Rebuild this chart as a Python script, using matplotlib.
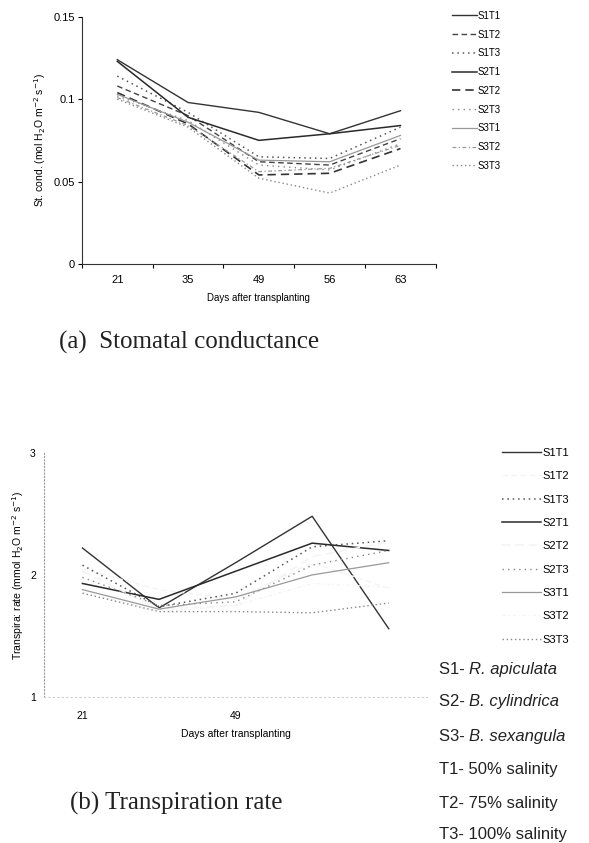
import matplotlib.pyplot as plt
import numpy as np

plt.rcParams['font.family'] = ['Liberation Sans', 'DejaVu Sans']

# Days after transplanting (category axis)
days = ['21', '35', '49', '56', '63']
series = ['S1T1', 'S1T2', 'S1T3', 'S2T1', 'S2T2', 'S2T3', 'S3T1', 'S3T2', 'S3T3']

# (a) Stomatal conductance (mol H2O m-2 s-1)
s1t1_gs = [0.124, 0.098, 0.092, 0.079, 0.093]
s1t2_gs = [0.108, 0.090, 0.062, 0.060, 0.076]
s1t3_gs = [0.114, 0.092, 0.065, 0.064, 0.083]
s2t1_gs = [0.123, 0.089, 0.075, 0.079, 0.084]
s2t2_gs = [0.104, 0.085, 0.054, 0.055, 0.070]
s2t3_gs = [0.102, 0.087, 0.060, 0.057, 0.073]
s3t1_gs = [0.103, 0.086, 0.063, 0.062, 0.078]
s3t2_gs = [0.101, 0.084, 0.056, 0.058, 0.072]
s3t3_gs = [0.100, 0.083, 0.052, 0.043, 0.060]

# (b) Transpiration rate (mmol H2O m-2 s-1)
s1t1_tr = [2.22, 1.73, 2.10, 2.48, 1.56]
s1t2_tr = [2.05, 1.88, 1.80, 2.10, 1.89]
s1t3_tr = [2.08, 1.74, 1.85, 2.23, 2.28]
s2t1_tr = [1.93, 1.80, 2.03, 2.26, 2.20]
s2t2_tr = [2.03, 1.72, 1.75, 2.15, 2.27]
s2t3_tr = [1.98, 1.75, 1.78, 2.08, 2.20]
s3t1_tr = [1.88, 1.72, 1.82, 2.00, 2.10]
s3t2_tr = [1.86, 1.70, 1.75, 1.93, 1.90]
s3t3_tr = [1.85, 1.70, 1.70, 1.69, 1.77]

gs_data = [s1t1_gs, s1t2_gs, s1t3_gs, s2t1_gs, s2t2_gs, s2t3_gs, s3t1_gs, s3t2_gs, s3t3_gs]
tr_data = [s1t1_tr, s1t2_tr, s1t3_tr, s2t1_tr, s2t2_tr, s2t3_tr, s3t1_tr, s3t2_tr, s3t3_tr]

legend_notes = ['S1- ', 'S2- ', 'S3- ', 'T1- 50% salinity', 'T2- 75% salinity', 'T3- 100% salinity']
species = ['R. apiculata', 'B. cylindrica', 'B. sexangula']

# line styles per series (dark -> light going S1 -> S3)
styles = [
    dict(color='#333333', ls='-', lw=1.0),
    dict(color='#444444', ls=(0, (4, 2.5)), lw=1.0),
    dict(color='#555555', ls=(0, (1, 2.5)), lw=1.1),
    dict(color='#2a2a2a', ls='-', lw=1.1),
    dict(color='#333333', ls=(0, (5, 3)), lw=1.2),
    dict(color='#888888', ls=(0, (1, 3)), lw=1.0),
    dict(color='#999999', ls='-', lw=0.9),
    dict(color='#999999', ls=(0, (3, 2, 1, 2)), lw=0.9),
    dict(color='#888888', ls=(0, (1, 2)), lw=1.0),
]

fig = plt.figure(figsize=(5.89, 8.43), dpi=100)
x = np.arange(len(days))

# ---------- (a) stomatal conductance ----------
ax1 = fig.add_axes([0.139, 0.687, 0.601, 0.293])
for name, vals, st in zip(series, gs_data, styles):
    ax1.plot(x, vals, label=name, **st)
ax1.set_xlim(-0.5, 4.5)
ax1.set_ylim(0, 0.15)
ax1.set_yticks([0, 0.05, 0.1, 0.15])
ax1.set_yticklabels(['0', '0.05', '0.1', '0.15'], fontsize=8)
ax1.set_xticks(x)
ax1.set_xticklabels(days, fontsize=8)
ax1.tick_params(axis='x', length=0, pad=8)
ax1.set_xticks(np.arange(-0.5, 5.0, 1.0), minor=True)
ax1.tick_params(axis='x', which='minor', length=3, width=0.8, direction='out')
ax1.tick_params(axis='y', length=3, width=0.8, pad=2)
ax1.spines['top'].set_visible(False)
ax1.spines['right'].set_visible(False)
ax1.spines['left'].set_color('#333333')
ax1.spines['bottom'].set_color('#333333')
ax1.set_ylabel('St. cond. (mol H$_2$O m$^{-2}$ s$^{-1}$)', fontsize=7.5, labelpad=4)
ax1.set_xlabel('Days after transplanting', fontsize=7, labelpad=6)
ax1.legend(loc='upper left', bbox_to_anchor=(1.02, 1.06), frameon=False,
           fontsize=7, handlelength=2.6, handletextpad=0.1, labelspacing=0.9)

fig.text(0.10, 0.587, '(a)  Stomatal conductance', fontsize=18,
         family=['Liberation Serif', 'DejaVu Serif'], color='#222222')

# ---------- (b) transpiration rate ----------
ax2 = fig.add_axes([0.075, 0.173, 0.650, 0.290])
for name, vals, st in zip(series, tr_data, styles):
    ax2.plot(x, vals, label=name, **st)
ax2.set_xlim(-0.5, 4.5)
ax2.set_ylim(1, 3)
ax2.set_yticks([1, 2, 3])
ax2.set_yticklabels(['1', '2', '3'], fontsize=7.5)
ax2.set_xticks(x)
ax2.set_xticklabels(['21', '', '49', '', ''], fontsize=7.5)
ax2.tick_params(axis='x', length=0, pad=10)
ax2.tick_params(axis='y', length=0, pad=6)
ax2.spines['top'].set_visible(False)
ax2.spines['right'].set_visible(False)
ax2.spines['left'].set_linestyle((0, (1, 2)))
ax2.spines['left'].set_color('#999999')
ax2.spines['bottom'].set_linestyle((0, (1, 3)))
ax2.spines['bottom'].set_color('#cccccc')
ax2.set_ylabel('Transpira: rate (mmol H$_2$O m$^{-2}$ s$^{-1}$)', fontsize=7.5, labelpad=3)
ax2.set_xlabel('Days after transplanting', fontsize=7.5, labelpad=6)

handles, labels = ax2.get_legend_handles_labels()
for i in (1, 4, 7):
    handles[i].set_color('#f4f4f4')
ax2.legend(handles, labels, loc='upper left', bbox_to_anchor=(1.17, 1.06), frameon=False,
           fontsize=8, handlelength=3.5, handletextpad=0.1, labelspacing=1.2)

note_y = [0.201, 0.162, 0.121, 0.082, 0.042, 0.005]
for i, (note, ny) in enumerate(zip(legend_notes, note_y)):
    fig.text(0.745, ny, note, fontsize=12, color='#222222')
    if i < 3:
        fig.text(0.745 + 0.052, ny, species[i], fontsize=12, style='italic', color='#222222')

fig.text(0.118, 0.040, '(b) Transpiration rate', fontsize=18,
         family=['Liberation Serif', 'DejaVu Serif'], color='#222222')

fig.savefig('out.png', dpi=100)
